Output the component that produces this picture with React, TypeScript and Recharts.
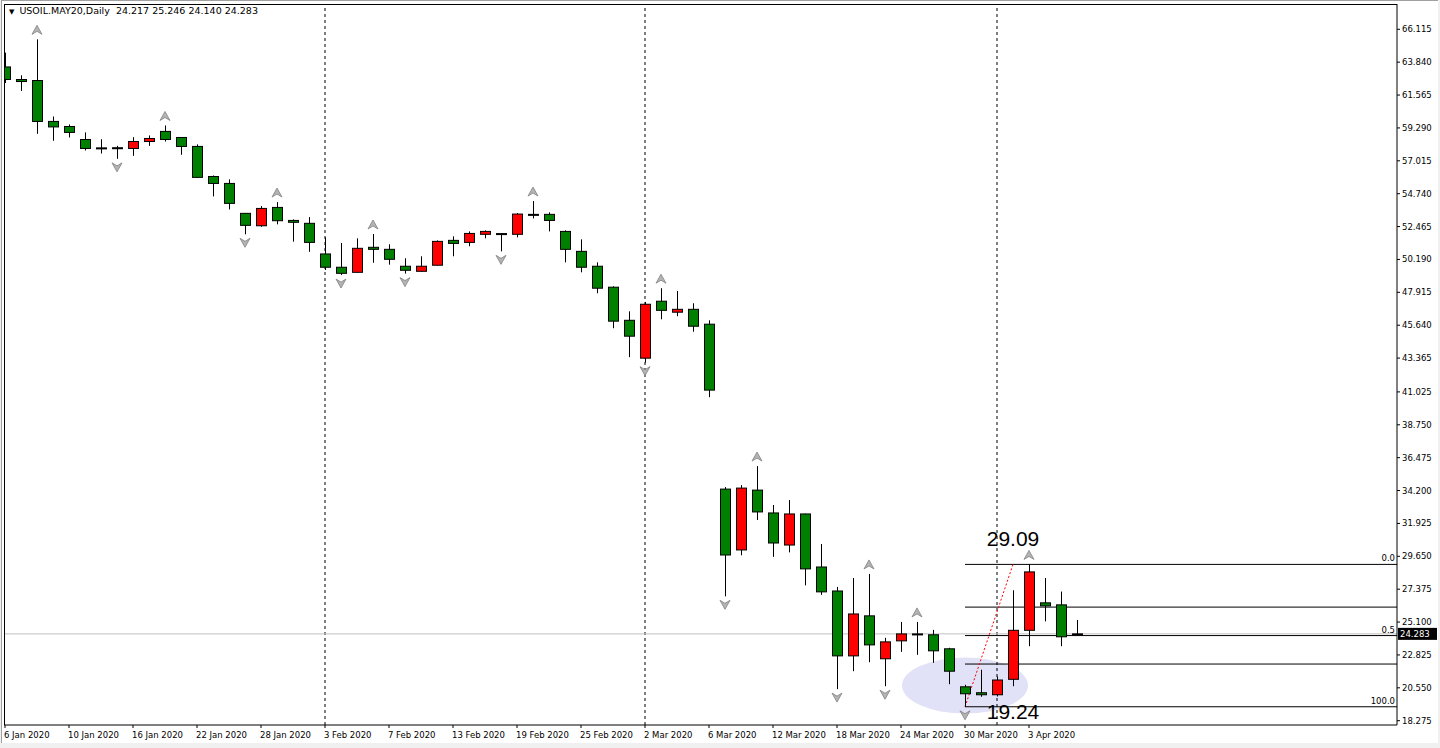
import React from 'react';
import { ComposedChart, Bar, Scatter, XAxis, YAxis, ReferenceLine, ReferenceDot } from 'recharts';

// daily bars, USOIL May 2020 contract
const dates = [
  '6 Jan', '7 Jan', '8 Jan', '9 Jan', '10 Jan', '13 Jan', '14 Jan', '15 Jan', '16 Jan', '17 Jan',
  '20 Jan', '21 Jan', '22 Jan', '23 Jan', '24 Jan', '27 Jan', '28 Jan', '29 Jan', '30 Jan', '31 Jan',
  '3 Feb', '4 Feb', '5 Feb', '6 Feb', '7 Feb', '10 Feb', '11 Feb', '12 Feb', '13 Feb', '14 Feb',
  '17 Feb', '18 Feb', '19 Feb', '20 Feb', '21 Feb', '24 Feb', '25 Feb', '26 Feb', '27 Feb', '28 Feb',
  '2 Mar', '3 Mar', '4 Mar', '5 Mar', '6 Mar', '9 Mar', '10 Mar', '11 Mar', '12 Mar', '13 Mar',
  '16 Mar', '17 Mar', '18 Mar', '19 Mar', '20 Mar', '23 Mar', '24 Mar', '25 Mar', '26 Mar', '27 Mar',
  '30 Mar', '31 Mar', '1 Apr', '2 Apr', '3 Apr', '6 Apr', '7 Apr', '8 Apr',
];

const opens = [
  63.51, 62.64, 62.57, 59.74, 59.39, 58.49, 57.91, 57.92, 57.87, 58.35,
  59.05, 58.63, 58.01, 55.93, 55.45, 53.38, 52.52, 53.79, 52.89, 52.69,
  50.57, 49.65, 49.30, 51.03, 50.89, 49.72, 49.37, 49.79, 51.51, 51.37,
  51.93, 51.98, 51.93, 53.31, 53.31, 52.13, 50.75, 49.72, 48.27, 45.98,
  43.36, 47.30, 46.54, 46.74, 45.71, 34.30, 30.09, 34.23, 32.65, 30.43,
  32.58, 28.91, 27.25, 22.76, 25.53, 22.56, 23.80, 24.28, 24.22, 23.25,
  20.62, 20.21, 20.07, 21.14, 24.53, 26.43, 26.29, 24.217,
];

const highs = [
  64.50, 62.93, 65.42, 60.08, 59.53, 58.98, 58.51, 58.05, 58.65, 58.77,
  59.46, 58.64, 58.15, 56.00, 55.73, 53.40, 53.88, 54.16, 52.96, 53.12,
  51.72, 51.33, 51.65, 51.95, 51.24, 50.27, 50.41, 51.51, 51.79, 52.13,
  52.20, 52.00, 53.40, 54.23, 53.45, 52.20, 51.58, 49.99, 48.33, 46.60,
  47.25, 48.20, 48.01, 47.16, 45.98, 34.44, 34.58, 35.89, 33.20, 33.54,
  32.60, 30.50, 27.53, 28.15, 28.43, 24.01, 25.11, 25.11, 24.56, 23.32,
  20.76, 21.80, 21.33, 27.30, 29.09, 28.15, 27.21, 25.246,
];

const lows = [
  62.40, 61.85, 58.88, 58.40, 58.63, 57.73, 57.52, 57.15, 57.36, 58.05,
  58.35, 57.43, 55.85, 54.55, 53.65, 51.93, 52.45, 52.62, 51.42, 50.72,
  49.46, 49.11, 49.28, 49.96, 49.83, 49.21, 49.35, 49.77, 50.41, 51.10,
  51.65, 50.75, 51.72, 53.03, 52.13, 49.99, 49.30, 47.85, 45.43, 43.43,
  43.05, 46.05, 46.26, 45.19, 40.66, 26.88, 29.72, 32.16, 29.61, 29.92,
  27.64, 26.98, 20.46, 21.70, 22.32, 20.66, 23.04, 22.83, 22.28, 20.80,
  19.24, 19.93, 19.95, 20.66, 23.43, 25.15, 23.43, 24.140,
];

const closes = [
  62.64, 62.50, 59.74, 59.36, 58.98, 57.87, 57.88, 57.90, 58.35, 58.56,
  58.49, 58.01, 55.87, 55.45, 54.07, 52.55, 53.72, 52.87, 52.76, 51.37,
  49.65, 49.23, 50.96, 50.89, 50.20, 49.44, 49.72, 51.44, 51.30, 51.99,
  52.13, 51.96, 53.33, 53.30, 52.89, 50.89, 49.65, 48.20, 45.92, 44.88,
  47.09, 46.67, 46.74, 45.57, 41.15, 29.74, 34.37, 32.72, 30.57, 32.58,
  28.78, 27.19, 22.76, 25.66, 23.52, 23.73, 24.28, 24.27, 23.11, 21.70,
  20.14, 20.07, 21.09, 24.53, 28.57, 26.22, 24.08, 24.283,
];

const upFractals = [2, 10, 17, 23, 33, 41, 47, 54, 57, 64];
const downFractals = [7, 15, 21, 25, 31, 40, 45, 52, 55, 60];
const monthStarts = [20, 40, 62];

const priceTicks = [
  66.115, 63.84, 61.565, 59.29, 57.015, 54.74, 52.465, 50.19, 47.915, 45.64, 43.365,
  41.025, 38.75, 36.475, 34.2, 31.925, 29.65, 27.375, 25.1, 22.825, 20.55, 18.275,
];
const dateTicks = [0, 4, 8, 12, 16, 20, 24, 28, 32, 36, 40, 44, 48, 52, 56, 60, 64];

// fibonacci drawn from the 30 Mar low to the early April high
const fibStart = 60;
const fibPeak = 63;
const fibHigh = 29.09;
const fibLow = 19.24;
const fibLevels = [0, 0.3, 0.5, 0.7, 1];
const fibLabels = ['0.0', '', '0.5', '', '100.0'];
const highlightPrice = 20.71;

const candles = dates.map((d, i) => ({
  i,
  date: d,
  open: opens[i],
  high: highs[i],
  low: lows[i],
  close: closes[i],
  range: [lows[i], highs[i]],
}));
const upMarks = upFractals.map((i) => ({ i, v: highs[i] }));
const downMarks = downFractals.map((i) => ({ i, v: lows[i] }));
const last = candles[candles.length - 1];

const FONT = '"DejaVu Sans", Tahoma, sans-serif';

const Candle = (props: any) => {
  const { x, y, width, height, payload } = props;
  const { open, close, high, low } = payload;
  const cx = Math.round(x + width / 2) + 0.5;
  const k = height / (high - low);
  const py = (v: number) => y + (high - v) * k;
  const top = py(Math.max(open, close));
  const bot = py(Math.min(open, close));
  return (
    <g>
      <line x1={cx} x2={cx} y1={y} y2={y + height} stroke="#000" strokeWidth={1} />
      <rect
        x={cx - 5}
        y={top}
        width={10}
        height={Math.max(bot - top, 1)}
        fill={close > open ? '#ff0000' : '#008000'}
        stroke="#000"
        strokeWidth={1}
      />
    </g>
  );
};

const UpArrow = (props: any) => {
  const { cx, cy } = props;
  const t = cy - 14;
  return <path d={`M${cx},${t} L${cx + 5},${t + 9} L${cx},${t + 6} L${cx - 5},${t + 9} Z`} fill="#b4b4b4" stroke="#808080" strokeWidth={0.8} />;
};

const DownArrow = (props: any) => {
  const { cx, cy } = props;
  const b = cy + 13;
  return <path d={`M${cx},${b} L${cx + 5},${b - 9} L${cx},${b - 6} L${cx - 5},${b - 9} Z`} fill="#b4b4b4" stroke="#808080" strokeWidth={0.8} />;
};

const XTick = (props: any) => {
  const { x, y, payload } = props;
  return (
    <g>
      <line x1={x} x2={x} y1={y} y2={y + 3} stroke="#000" />
      <text x={x - 1} y={y + 13} fontSize={8.5} fontFamily={FONT} fill="#000" textAnchor="start">
        {dates[payload.value]} 2020
      </text>
    </g>
  );
};

const PriceTag = (props: any) => {
  const { viewBox } = props;
  const x = viewBox.x + viewBox.width + 1;
  return (
    <g>
      <rect x={x} y={viewBox.y - 6} width={39} height={12} fill="#000" />
      <text x={x + 2} y={viewBox.y + 3.5} fontSize={8.5} fontFamily={FONT} fill="#fff">
        {last.close.toFixed(3)}
      </text>
    </g>
  );
};

const FibLabel = (props: any) => {
  const { viewBox, text } = props;
  if (!text) return null;
  return (
    <text x={viewBox.x + viewBox.width - 2} y={viewBox.y - 3} fontSize={8.5} fontFamily={FONT} fill="#000" textAnchor="end">
      {text}
    </text>
  );
};

const Highlight = (props: any) => <ellipse cx={props.cx} cy={props.cy} rx={63} ry={28} fill="#e1e1f7" />;

const PriceNote = (dy: number) => (props: any) => (
  <text x={props.cx} y={props.cy + dy} fontSize={21} fontFamily='"Liberation Sans", Arial, sans-serif' fill="#000" textAnchor="middle">
    {props.note}
  </text>
);

export default function App() {
  return (
    <div style={{ position: 'absolute', left: 0, top: 0, width: 1440, height: 748, background: '#f0f0f0', overflow: 'hidden' }}>
      <div style={{ position: 'absolute', left: 1, top: 0, width: 1436, height: 742, background: '#fff', borderLeft: '1px solid #a0a0a0', borderTop: '1px solid #a0a0a0' }} />
      <div style={{ position: 'absolute', left: 0, top: 0 }}>
        <ComposedChart width={1440} height={748} data={candles} margin={{ top: 4, right: 0, bottom: 0, left: 4 }}>
          <XAxis
            type="number"
            dataKey="i"
            domain={[-0.0625, 87]}
            allowDataOverflow
            ticks={dateTicks}
            interval={0}
            tick={<XTick />}
            tickLine={false}
            tickSize={0}
            tickMargin={0}
            axisLine={{ stroke: '#000' }}
            height={23}
          />
          <YAxis
            orientation="right"
            type="number"
            domain={[17.9775, 67.865]}
            allowDataOverflow
            ticks={priceTicks}
            interval={0}
            width={43}
            tickSize={3}
            tickMargin={2}
            tickLine={{ stroke: '#000' }}
            axisLine={{ stroke: '#000' }}
            tick={{ fontSize: 8.5, fill: '#000', fontFamily: FONT }}
            tickFormatter={(v: number) => v.toFixed(3)}
          />
          <ReferenceDot x={fibStart} y={highlightPrice} shape={<Highlight />} zIndex={50} />
          {monthStarts.map((m) => (
            <ReferenceLine key={m} x={m} stroke="#000" strokeDasharray="3 3" zIndex={100} />
          ))}
          <ReferenceLine y={last.close} stroke="#c0c0c0" label={<PriceTag />} zIndex={100} />
          {fibLevels.map((lv, k) => {
            const p = fibHigh - lv * (fibHigh - fibLow);
            return (
              <ReferenceLine
                key={lv}
                segment={[{ x: fibStart, y: p }, { x: 87, y: p }]}
                stroke="#000"
                zIndex={100}
                label={<FibLabel text={fibLabels[k]} />}
              />
            );
          })}
          <ReferenceLine segment={[{ x: fibStart, y: fibLow }, { x: fibPeak, y: fibHigh }]} stroke="#ff0000" strokeDasharray="2 2" zIndex={100} />
          <Bar dataKey="range" shape={Candle} barSize={11} isAnimationActive={false} />
          <Scatter data={upMarks} dataKey="v" shape={UpArrow} isAnimationActive={false} />
          <Scatter data={downMarks} dataKey="v" shape={DownArrow} isAnimationActive={false} />
          <ReferenceDot x={fibPeak} y={fibHigh} shape={(p: any) => PriceNote(-18)({ ...p, note: fibHigh.toFixed(2) })} />
          <ReferenceDot x={fibPeak} y={fibLow} shape={(p: any) => PriceNote(12)({ ...p, note: fibLow.toFixed(2) })} />
        </ComposedChart>
      </div>
      <div style={{ position: 'absolute', left: 4, top: 4, width: 1393, height: 721, borderTop: '1px solid #000', borderLeft: '1px solid #000', boxSizing: 'border-box', pointerEvents: 'none' }} />
      <div style={{ position: 'absolute', left: 9, top: 5, fontFamily: FONT, fontSize: 9.5, color: '#000', whiteSpace: 'pre' }}>
        <span style={{ fontSize: 7, marginRight: 5 }}>▼</span>
        {'USOIL.MAY20,Daily  24.217 25.246 24.140 24.283'}
      </div>
    </div>
  );
}
